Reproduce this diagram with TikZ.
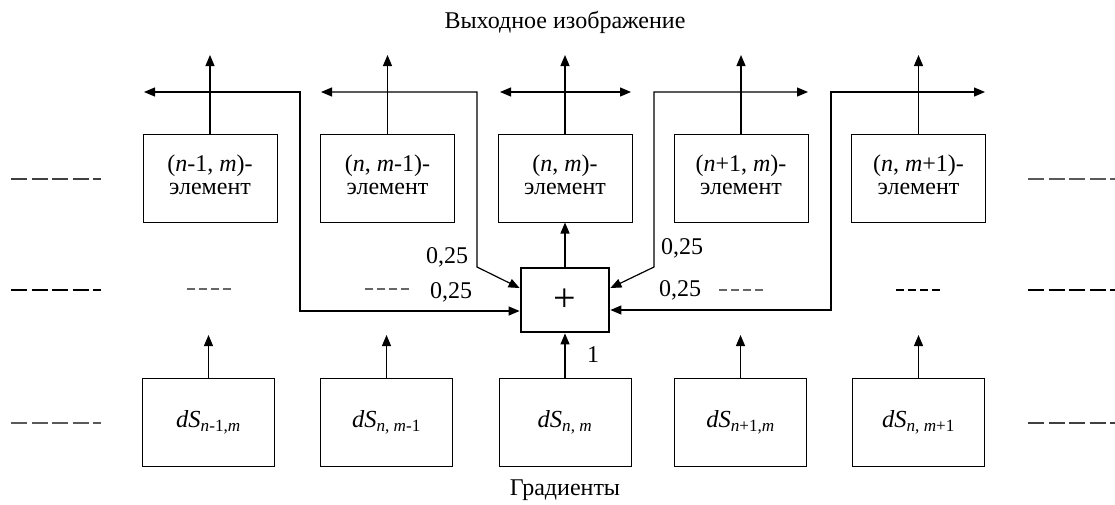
\documentclass[tikz,border=0pt]{standalone}
\usepackage{fontspec}
\setmainfont{Liberation Serif}
\usetikzlibrary{arrows.meta}
\begin{document}
\begin{tikzpicture}[x=1pt,y=-1pt,
  elem/.style={draw, line width=1pt, minimum width=134pt, minimum height=88pt, inner sep=0pt},
  etext/.style={inner sep=0pt, align=center, font=\fontsize{24}{23.5}\selectfont},
  grad/.style={draw, line width=1pt, minimum width=132pt, minimum height=88pt, inner sep=0pt, font=\fontsize{24.5}{26}\selectfont},
  sumbox/.style={draw, line width=2.8pt, minimum width=88pt, minimum height=64pt, inner sep=0pt, font=\fontsize{40}{42}\selectfont},
  conn/.style={line width=1.2pt, -{Triangle[length=11pt,width=9pt]}},
  both/.style={line width=1.2pt, {Triangle[length=11pt,width=9pt]}-{Triangle[length=11pt,width=9pt]}},
  lbl/.style={inner sep=0pt, font=\fontsize{24}{26}\selectfont},
  edgedash/.style={line width=2pt, dash pattern=on 16pt off 4.5pt},
  middash/.style={line width=1.6pt, dash pattern=on 8pt off 4pt, black!60}]
\useasboundingbox (0,0) rectangle (1115,504);

% titles
\node[lbl] (title) at (565,22) {Выходное изображение};
\node[lbl] (grads) at (565,490) {Градиенты};

% element boxes
\node[elem] (e1) at (210,178) {};
\node[elem] (e2) at (387.5,178) {};
\node[elem] (e3) at (565,178) {};
\node[elem] (e4) at (741,178) {};
\node[elem] (e5) at (918.5,178) {};
\node[etext] (e1t) at ([yshift=3pt]e1.center) {(\textit{n}-1, \textit{m})-\\элемент};
\node[etext] (e2t) at ([yshift=3pt]e2.center) {(\textit{n}, \textit{m}-1)-\\элемент};
\node[etext] (e3t) at ([yshift=3pt]e3.center) {(\textit{n}, \textit{m})-\\элемент};
\node[etext] (e4t) at ([yshift=3pt]e4.center) {(\textit{n}+1, \textit{m})-\\элемент};
\node[etext] (e5t) at ([yshift=3pt]e5.center) {(\textit{n}, \textit{m}+1)-\\элемент};

% gradient boxes
\node[grad] (d1) at (208.5,422) {\textit{dS}\textsubscript{\textit{n}-1,\textit{m}}};
\node[grad] (d2) at (386.5,422) {\textit{dS}\textsubscript{\textit{n}, \textit{m}-1}};
\node[grad] (d3) at (565,422) {\textit{dS}\textsubscript{\textit{n}, \textit{m}}};
\node[grad] (d4) at (740.5,422) {\textit{dS}\textsubscript{\textit{n}+1,\textit{m}}};
\node[grad] (d5) at (918.5,422) {\textit{dS}\textsubscript{\textit{n}, \textit{m}+1}};

% sum
\node[sumbox] (sum) at (565,300) {+};

% upward outputs
\foreach \i/\x in {1/210,2/387.5,3/565,4/741,5/918.5} {
  \coordinate (t\i) at (\x,55);
  \draw[conn] (e\i.north) -- (t\i);
}

% horizontal distribution lines
\coordinate (l1) at (144,92);  \coordinate (c1) at (300,92);
\coordinate (l2) at (321,92);  \coordinate (c2) at (477,92);
\coordinate (l3) at (500,92);  \coordinate (r3) at (631,92);
\coordinate (c4) at (654,92);  \coordinate (r4) at (808,92);
\coordinate (c5) at (831,92);  \coordinate (r5) at (985,92);
\coordinate (k2) at (477,267);
\coordinate (k4) at (654,267);

\draw[both] (l1) -- (c1) |- (sum.west |- 0,311);
\draw[both] (l2) -- (c2) -- (k2) -- (sum.west |- 0,288);
\draw[both] (l3) -- (r3);
\draw[both] (sum.east |- 0,288) -- (k4) -- (c4) -- (r4);
\draw[both] (sum.east |- 0,310) -| (c5) -- (r5);

% sum to centre element
\draw[conn] (sum.north) -- (e3.south);

% gradients upward
\draw[conn] (d1.north) -- (208.5,335);
\draw[conn] (d2.north) -- (386.5,335);
\draw[conn] (d3.north) -- (sum.south);
\draw[conn] (d4.north) -- (740.5,335);
\draw[conn] (d5.north) -- (918.5,335);

% labels
\node[lbl] (w1) at (447,257) {0,25};
\node[lbl] (w2) at (451,292) {0,25};
\node[lbl] (w3) at (682,248) {0,25};
\node[lbl] (w4) at (680,290) {0,25};
\node[lbl] (w5) at (593,355) {1};

% edge dashes
\draw[edgedash, black!75] (11,179) -- (101,179);
\draw[edgedash, black] (11,290) -- (101,290);
\draw[edgedash, black!65] (11,423) -- (101,423);
\draw[edgedash, black!65] (1028,179) -- (1115,179);
\draw[edgedash, black] (1028,290) -- (1115,290);
\draw[edgedash, black!75] (1028,423) -- (1115,423);

% middle dashes
\draw[middash] (187,289) -- (233,289);
\draw[middash] (365,289) -- (412,289);
\draw[middash] (719,290) -- (764,290);
\draw[middash, black] (896,290) -- (943,290);
\end{tikzpicture}
\end{document}
